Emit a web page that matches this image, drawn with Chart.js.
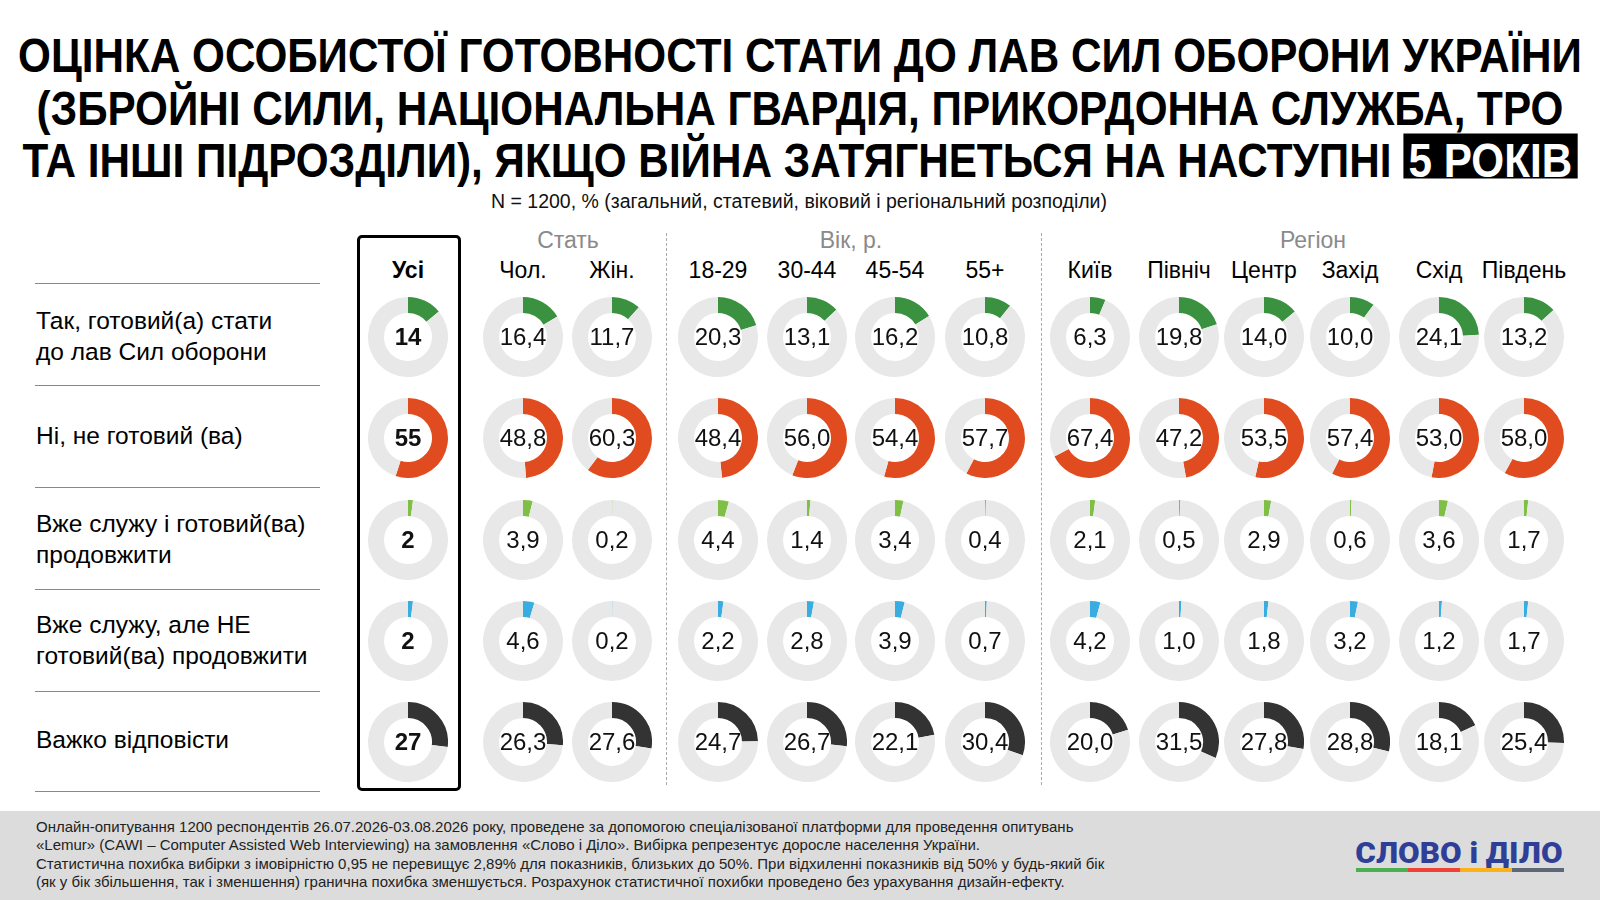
<!DOCTYPE html>
<html>
<head>
<meta charset="utf-8">
<script src="https://cdn.jsdelivr.net/npm/chart.js@4.4.1/dist/chart.umd.min.js"></script>
<style>
  body { margin: 0; width: 1600px; height: 900px; overflow: hidden; background: #fff;
         font-family: "Liberation Sans", Arial, sans-serif; }
  #page { position: relative; width: 1600px; height: 900px; }
  .t { position: absolute; white-space: nowrap; line-height: 1; }
  canvas.d { position: absolute; }
</style>
</head>
<body>
<div id="page"></div>
<script>
// --- data ---
const columns = ['Усі', 'Чол.', 'Жін.', '18-29', '30-44', '45-54', '55+',
                 'Київ', 'Північ', 'Центр', 'Захід', 'Схід', 'Південь'];
const groups = ['Стать', 'Вік, р.', 'Регіон'];
const answers = [
  ['Так, готовий(а) стати', 'до лав Сил оборони'],
  ['Ні, не готовий (ва)'],
  ['Вже служу і готовий(ва)', 'продовжити'],
  ['Вже служу, але НЕ', 'готовий(ва) продовжити'],
  ['Важко відповісти']
];
const readyVals      = [14, 16.4, 11.7, 20.3, 13.1, 16.2, 10.8, 6.3, 19.8, 14.0, 10.0, 24.1, 13.2];
const notReadyVals   = [55, 48.8, 60.3, 48.4, 56.0, 54.4, 57.7, 67.4, 47.2, 53.5, 57.4, 53.0, 58.0];
const serveReadyVals = [2, 3.9, 0.2, 4.4, 1.4, 3.4, 0.4, 2.1, 0.5, 2.9, 0.6, 3.6, 1.7];
const serveNotVals   = [2, 4.6, 0.2, 2.2, 2.8, 3.9, 0.7, 4.2, 1.0, 1.8, 3.2, 1.2, 1.7];
const hardVals       = [27, 26.3, 27.6, 24.7, 26.7, 22.1, 30.4, 20.0, 31.5, 27.8, 28.8, 18.1, 25.4];
const series = [readyVals, notReadyVals, serveReadyVals, serveNotVals, hardVals];

const titleLines = [
  'ОЦІНКА ОСОБИСТОЇ ГОТОВНОСТІ СТАТИ ДО ЛАВ СИЛ ОБОРОНИ УКРАЇНИ',
  '(ЗБРОЙНІ СИЛИ, НАЦІОНАЛЬНА ГВАРДІЯ, ПРИКОРДОННА СЛУЖБА, ТРО',
  'ТА ІНШІ ПІДРОЗДІЛИ), ЯКЩО ВІЙНА ЗАТЯГНЕТЬСЯ НА НАСТУПНІ'
];
const titleMark = '5 РОКІВ';
const subtitle = 'N = 1200, % (загальний, статевий, віковий і регіональний розподіли)';
const footnote = [
  'Онлайн-опитування 1200 респондентів 26.07.2026-03.08.2026 року, проведене за допомогою спеціалізованої платформи для проведення опитувань',
  '«Lemur» (CAWI – Computer Assisted Web Interviewing) на замовлення «Слово і Діло». Вибірка репрезентує доросле населення України.',
  'Статистична похибка вибірки з імовірністю 0,95 не перевищує 2,89% для показників, близьких до 50%. При відхиленні показників від 50% у будь-який бік',
  '(як у бік збільшення, так і зменшення) гранична похибка зменшується. Розрахунок статистичної похибки проведено без урахування дизайн-ефекту.'
];
const logoText = 'СЛОВО і ДІЛО';

// --- layout ---
const colX = [408, 523, 612, 718, 807, 895, 985, 1090, 1179, 1264, 1350, 1439, 1524];
const rowY = [337, 438, 540, 641, 742];
const groupX = [568, 851, 1313];
const sliceColors = ['#3a913f', '#e04c1f', '#7fbf45', '#3aade0', '#333333'];
const trackColor = '#e8e8e8';

const page = document.getElementById('page');

function put(text, x, y, css, align) {
  const d = document.createElement('div');
  d.className = 't';
  d.textContent = text;
  Object.assign(d.style, css || {});
  d.style.left = x + 'px';
  d.style.top = y + 'px';
  d.style.transform = align === 'left' ? 'translateY(-50%)' : 'translate(-50%,-50%)';
  page.appendChild(d);
  return d;
}
function box(x, y, w, h, css) {
  const d = document.createElement('div');
  d.style.position = 'absolute';
  d.style.left = x + 'px'; d.style.top = y + 'px';
  d.style.width = w + 'px'; d.style.height = h + 'px';
  Object.assign(d.style, css || {});
  page.appendChild(d);
  return d;
}
// squeeze a text block horizontally to a given width
function fitWidth(d, w, align) {
  const s = w / d.offsetWidth;
  d.style.transformOrigin = align === 'left' ? 'left center' : 'center center';
  d.style.transform = (align === 'left' ? 'translateY(-50%)' : 'translate(-50%,-50%)') + ' scaleX(' + s + ')';
  return s;
}

// title, squeezed to the width of the original lines
const titleY = [56, 109, 159];
const titleEls = titleLines.map((s, i) => {
  const d = put(s, 800, titleY[i], { fontSize: '48px', fontWeight: 'bold', color: '#000' });
  if (i === 2) {
    d.appendChild(document.createTextNode(' '));
    const m = document.createElement('span');
    m.textContent = titleMark;
    Object.assign(m.style, { display: 'inline-block', background: '#000', color: '#fff',
      padding: '0 6px', height: '45px', lineHeight: '53px', verticalAlign: 'baseline' });
    d.appendChild(m);
  }
  return d;
});
const sx = 1564 / titleEls[0].offsetWidth;
titleEls.forEach(d => { d.style.transform = 'translate(-50%,-50%) scaleX(' + sx + ')'; });

put(subtitle, 799, 202, { fontSize: '19.5px', color: '#111' });

// group headers and column labels
groups.forEach((g, i) => put(g, groupX[i], 240, { fontSize: '23px', color: '#8a8a8a' }));
columns.forEach((c, i) => put(c, colX[i], 270,
  { fontSize: '23px', color: '#000', fontWeight: i === 0 ? 'bold' : 'normal' }));

// separators
box(666, 233, 0, 552, { borderLeft: '1.5px dashed #aaa' });
box(1041, 233, 0, 552, { borderLeft: '1.5px dashed #aaa' });
[283, 385, 487, 589, 691, 791].forEach(y => box(35, y, 285, 0, { borderTop: '1.5px solid #888' }));

// "all" column frame
box(357, 235, 98, 550, { border: '3.5px solid #000', borderRadius: '5px' });

// row labels
const labelCss = { fontSize: '24.5px', color: '#000' };
answers.forEach((lines, r) => {
  if (lines.length === 1) put(lines[0], 36, rowY[r] - 2, labelCss, 'left');
  else lines.forEach((s, k) => put(s, 36, rowY[r] - 16 + k * 31, labelCss, 'left'));
});

// doughnuts
function fmt(v, i) {
  return i === 0 ? String(Math.round(v)) : v.toFixed(1).replace('.', ',');
}
series.forEach((vals, r) => {
  vals.forEach((v, i) => {
    const cv = document.createElement('canvas');
    cv.className = 'd';
    cv.width = 80; cv.height = 80;
    cv.style.left = (colX[i] - 40) + 'px';
    cv.style.top = (rowY[r] - 40) + 'px';
    page.appendChild(cv);
    new Chart(cv, {
      type: 'doughnut',
      data: {
        labels: [answers[r].join(' '), ''],
        datasets: [{
          data: [v, 100 - v],
          backgroundColor: [sliceColors[r], trackColor],
          borderWidth: 0,
          hoverOffset: 0,
          offset: 0
        }]
      },
      options: {
        responsive: false,
        animation: false,
        events: [],
        cutout: '60%',
        layout: { padding: 0 },
        plugins: { legend: { display: false }, tooltip: { enabled: false } }
      }
    });
    put(fmt(v, i), colX[i], rowY[r],
      { fontSize: '24px', color: '#111', fontWeight: i === 0 ? 'bold' : 'normal' });
  });
});

// footer
box(0, 811, 1600, 89, { background: '#dcdcdc' });
footnote.forEach((s, k) => put(s, 36, 826 + k * 18.4, { fontSize: '15px', color: '#222' }, 'left'));

const logo = put(logoText, 1459, 853, { fontSize: '30px', fontWeight: '900', color: '#2f3f97',
  fontFamily: 'Roboto, "Liberation Sans", sans-serif' });
fitWidth(logo, 207);
['#4caf50', '#ef4136', '#fbb117', '#5d6778'].forEach((c, k) =>
  box(1356 + k * 52, 868, 52, 4, { background: c }));
</script>
</body>
</html>
